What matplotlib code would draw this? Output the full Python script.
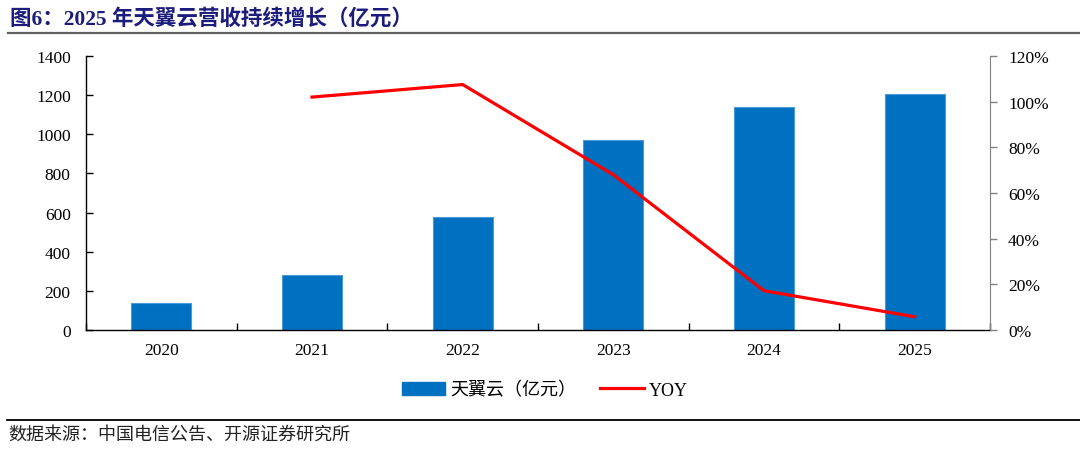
import matplotlib
matplotlib.use("Agg")
import matplotlib.pyplot as plt
import numpy as np
from matplotlib.lines import Line2D
from matplotlib.patches import Patch

years = ["2020", "2021", "2022", "2023", "2024", "2025"]
revenue = [136, 279, 579, 972, 1139, 1205]
yoy_years = ["2021", "2022", "2023", "2024", "2025"]
yoy = [102.0, 107.5, 68.0, 17.2, 5.8]

left_ticks = [0, 200, 400, 600, 800, 1000, 1200, 1400]
right_ticks = [0, 20, 40, 60, 80, 100, 120]
right_labels = [f"{v}%" for v in right_ticks]

title = "图6：2025 年天翼云营收持续增长（亿元）"
source = "数据来源：中国电信公告、开源证券研究所"
bar_label = "天翼云（亿元）"
line_label = "YOY"

SERIF = ["Liberation Serif", "Noto Sans CJK SC"]
plt.rcParams["font.family"] = SERIF

fig = plt.figure(figsize=(10.8, 4.52), dpi=100)
ax = fig.add_axes([86/1080, 1-331/452, (990-86)/1080, (331-57)/452])
ax2 = ax.twinx()

x = np.arange(len(years))
ax.bar(x, revenue, width=0.4, color="#0070C0", edgecolor="#4A9AD8", linewidth=0.8, zorder=2)
xl = [years.index(y) for y in yoy_years]
ax2.plot(xl, yoy, color="#FF0000", linewidth=2.3, zorder=3)

ax.set_xlim(-0.5, len(years) - 0.5)
ax.set_ylim(0, 1400)
ax2.set_ylim(0, 120)

TICK_FS = 12.5
ax.set_xticks(x)
ax.set_xticklabels(years, fontsize=TICK_FS)
ax.set_xticks(np.arange(-0.5, len(years), 1), minor=True)
ax.tick_params(axis="x", which="major", length=0, pad=9)
ax.tick_params(axis="x", which="minor", direction="in", length=5, width=1, color="black")

ax.set_yticks(left_ticks)
ax.set_yticklabels([str(v) for v in left_ticks], fontsize=TICK_FS)
ax.tick_params(axis="y", direction="in", length=5, width=1, pad=11)

ax2.set_yticks(right_ticks)
ax2.set_yticklabels(right_labels, fontsize=TICK_FS)
ax2.tick_params(axis="y", direction="out", length=5, width=1, color="#808080", pad=8)

for a in (ax, ax2):
    a.spines["top"].set_visible(False)
ax.spines["right"].set_visible(False)
ax2.spines["left"].set_visible(False)
ax2.spines["bottom"].set_visible(False)
ax2.spines["right"].set_color("#808080")
ax.spines["left"].set_color("black")
ax.spines["bottom"].set_color("black")
ax.spines["left"].set_linewidth(1.0)
ax.spines["bottom"].set_linewidth(1.0)

# Title
fig.text(10/1080, 1-19/452, title, fontsize=15.5, fontweight="bold", color="#1C1C7C",
         family=SERIF, va="center", ha="left")
fig.add_artist(Line2D([8/1080, 1.0], [1-34/452, 1-34/452], color="#606060", linewidth=1.6))

# Legend
handles = [Patch(facecolor="#0070C0", edgecolor="#0070C0"),
           Line2D([0], [0], color="#FF0000", linewidth=2.3)]
fig.legend(handles, [bar_label, line_label], loc="center", bbox_to_anchor=(545/1080, 1-391/452),
           ncol=2, frameon=False, fontsize=13, handlelength=2.4, handletextpad=0.3,
           columnspacing=1.3, handleheight=0.7)

# Source
fig.add_artist(Line2D([7/1080, 1.0], [1-421/452, 1-421/452], color="black", linewidth=1.3))
fig.text(8/1080, 1-435/452, source, fontsize=13, color="#222222", family=SERIF,
         fontweight="light", va="center", ha="left")

fig.savefig("out.png", dpi=100)
